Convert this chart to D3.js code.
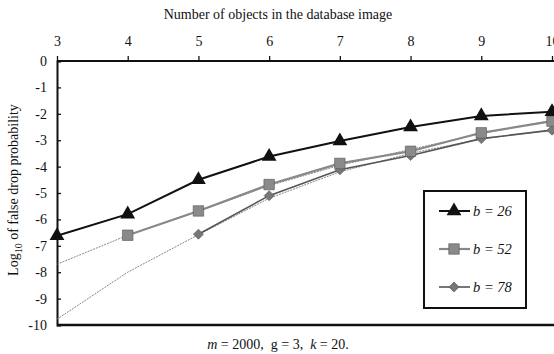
<!DOCTYPE html>
<html>
<head>
<meta charset="utf-8">
<script src="https://cdn.jsdelivr.net/npm/d3@7"></script>
<style>
  body { margin: 0; background: #fff; }
  svg text { font-family: "Liberation Serif", "Times New Roman", serif; fill: #111; }
</style>
</head>
<body>
<div id="chart"></div>
<script>
// number of objects in the database image
var objects = [3, 4, 5, 6, 7, 8, 9, 10];
var yTicks = [0, -1, -2, -3, -4, -5, -6, -7, -8, -9, -10];

// measured log10 false drop probability
var b26 = [-6.62, -5.8, -4.5, -3.62, -3.03, -2.5, -2.08, -1.92];
var b52 = [null, -6.6, -5.68, -4.68, -3.88, -3.42, -2.72, -2.28];
var b78 = [null, null, -6.56, -5.1, -4.12, -3.58, -2.94, -2.62];

// thin dotted estimates that run under the measured lines
var b52est = [-7.7, -6.6, -5.7, -4.72, -3.95, -3.35, -2.75, -2.25];
var b78est = [-9.78, -8.0, -6.58, -5.2, -4.2, -3.5, -2.95, -2.62];

var legendLabels = ['b = 26', 'b = 52', 'b = 78'];

var width = 554,
	height = 354,
	plotLeft = 57, plotRight = 552, plotTop = 61, plotBottom = 325;

var svg = d3.select('#chart').append('svg')
	.attr('width', width)
	.attr('height', height);

var x = d3.scaleLinear().domain([3, 10]).range([plotLeft, plotRight]);
var y = d3.scaleLinear().domain([0, -10]).range([plotTop, plotBottom]);

var plainNum = function(d) { return String(d); };

//Top axis with the tick labels
var xAxis = svg.append('g')
	.attr('transform', 'translate(0,' + plotTop + ')')
	.call(d3.axisTop(x).tickValues(objects).tickSize(5).tickPadding(10).tickFormat(plainNum))
	.attr('font-family', null);
xAxis.select('.domain').attr('stroke', '#111').attr('stroke-width', 2).attr('d', 'M' + plotLeft + ',0H' + width);
xAxis.selectAll('line').attr('stroke', '#111').attr('stroke-width', 1.3);
xAxis.selectAll('text').style('font-size', '14px');

//Left axis, ticks pointing inside
var yAxis = svg.append('g')
	.attr('transform', 'translate(' + plotLeft + ',0)')
	.call(d3.axisLeft(y).tickValues(yTicks).tickSize(-4).tickPadding(10).tickFormat(plainNum))
	.attr('font-family', null);
yAxis.select('.domain').attr('stroke', '#111').attr('stroke-width', 2);
yAxis.selectAll('line').attr('stroke', '#111').attr('stroke-width', 1.3);
yAxis.selectAll('text').style('font-size', '14px');

//Bottom frame line
svg.append('line')
	.attr('x1', plotLeft).attr('x2', width)
	.attr('y1', plotBottom).attr('y2', plotBottom)
	.attr('stroke', '#111').attr('stroke-width', 2.4);

var line = d3.line()
	.defined(function(d) { return d != null; })
	.x(function(d, i) { return x(objects[i]); })
	.y(function(d) { return y(d); });

//Estimate lines
[b52est, b78est].forEach(function(s) {
	svg.append('path')
		.datum(s)
		.attr('d', line)
		.attr('fill', 'none')
		.attr('stroke', '#777')
		.attr('stroke-width', 0.9)
		.attr('stroke-dasharray', '2,1');
});

var series = [
	{ values: b78, stroke: '#555', width: 1.6, fill: '#777', symbol: d3.symbolSquare, size: 50, rot: 45 },
	{ values: b52, stroke: '#888', width: 2.2, fill: '#8a8a8a', symbol: d3.symbolSquare, size: 110, rot: 0 },
	{ values: b26, stroke: '#111', width: 2, fill: '#111', symbol: d3.symbolTriangle, size: 95, rot: 0 }
];

series.forEach(function(s) {
	svg.append('path')
		.datum(s.values)
		.attr('d', line)
		.attr('fill', 'none')
		.attr('stroke', s.stroke)
		.attr('stroke-width', s.width);

	svg.selectAll(null)
		.data(s.values.map(function(v, i) { return { v: v, x: objects[i] }; }).filter(function(d) { return d.v != null; }))
		.enter().append('path')
		.attr('d', d3.symbol().type(s.symbol).size(s.size))
		.attr('transform', function(d) { return 'translate(' + x(d.x) + ',' + y(d.v) + ') rotate(' + s.rot + ')'; })
		.attr('fill', s.fill)
		.attr('stroke', s.fill === '#111' ? 'none' : '#555')
		.attr('stroke-width', 0.6);
});

//Legend
svg.append('rect')
	.attr('x', 424).attr('y', 191)
	.attr('width', 102).attr('height', 117)
	.attr('fill', '#fff')
	.attr('stroke', '#111')
	.attr('stroke-width', 2);

var legendSeries = series.slice().reverse();
legendSeries.forEach(function(s, i) {
	var ly = 211 + i * 38;
	svg.append('line')
		.attr('x1', 439).attr('x2', 470)
		.attr('y1', ly).attr('y2', ly)
		.attr('stroke', s.stroke)
		.attr('stroke-width', s.width);
	svg.append('path')
		.attr('d', d3.symbol().type(s.symbol).size(s.size))
		.attr('transform', 'translate(454,' + ly + ') rotate(' + s.rot + ')')
		.attr('fill', s.fill)
		.attr('stroke', s.fill === '#111' ? 'none' : '#555')
		.attr('stroke-width', 0.6);
	svg.append('text')
		.attr('x', 473).attr('y', ly + 5)
		.style('font-size', '14.5px')
		.style('font-style', 'italic')
		.text(legendLabels[i]);
});

//Titles
svg.append('text')
	.attr('x', 278).attr('y', 19)
	.attr('text-anchor', 'middle')
	.style('font-size', '14px')
	.text('Number of objects in the database image');

var yTitle = svg.append('text')
	.attr('transform', 'translate(18,190) rotate(-90)')
	.attr('text-anchor', 'middle')
	.style('font-size', '14px');
yTitle.append('tspan').text('Log');
yTitle.append('tspan').attr('dy', 4).style('font-size', '10px').text('10');
yTitle.append('tspan').attr('dy', -4).text(' of false drop probability');

var foot = svg.append('text')
	.attr('x', 278).attr('y', 349)
	.attr('text-anchor', 'middle')
	.style('white-space', 'pre')
	.style('font-size', '14px');
foot.append('tspan').style('font-style', 'italic').text('m');
foot.append('tspan').text(' = 2000,  g = 3,  ');
foot.append('tspan').style('font-style', 'italic').text('k');
foot.append('tspan').text(' = 20.');
</script>
</body>
</html>
